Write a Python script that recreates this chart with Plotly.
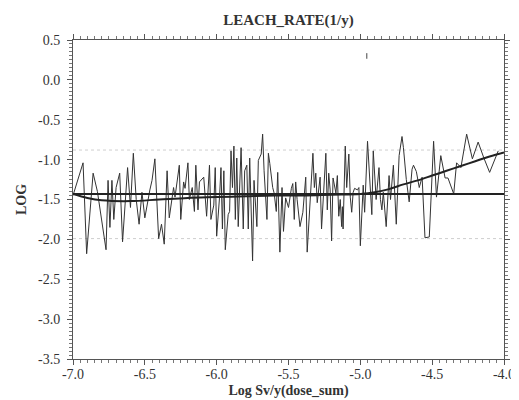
import plotly.graph_objects as go

# noisy series (log dose vs LOG leach rate)
x_vals = [-7.00, -6.93, -6.905, -6.86, -6.83, -6.77, -6.756, -6.743, -6.729, -6.716, -6.70, -6.675,
          -6.655, -6.634, -6.62, -6.60, -6.58, -6.56, -6.54, -6.52, -6.50, -6.465, -6.45, -6.43,
          -6.404, -6.384, -6.365, -6.345, -6.33, -6.30, -6.29, -6.26, -6.25, -6.23, -6.22, -6.20,
          -6.19, -6.17, -6.155, -6.145, -6.13, -6.12, -6.10, -6.09, -6.07, -6.05, -6.04, -6.02,
          -6.01, -6.00, -5.98, -5.97, -5.96, -5.95, -5.94, -5.92, -5.91, -5.90, -5.89, -5.88,
          -5.87, -5.86, -5.85, -5.83, -5.815, -5.805, -5.79, -5.78, -5.77, -5.75, -5.74, -5.72,
          -5.71, -5.69, -5.68, -5.67, -5.65, -5.64, -5.63, -5.61, -5.60, -5.585, -5.575, -5.56,
          -5.545, -5.535, -5.52, -5.50, -5.48, -5.47, -5.46, -5.45, -5.44, -5.42, -5.40, -5.38,
          -5.37, -5.35, -5.34, -5.33, -5.32, -5.31, -5.30, -5.28, -5.27, -5.25, -5.24, -5.23,
          -5.22, -5.21, -5.20, -5.19, -5.17, -5.16, -5.15, -5.14, -5.13, -5.125, -5.12, -5.105,
          -5.095, -5.08, -5.07, -5.06, -5.05, -5.04, -5.02, -5.01, -5.00, -4.98, -4.97, -4.95,
          -4.93, -4.92, -4.91, -4.89, -4.87, -4.86, -4.85, -4.84, -4.82, -4.80, -4.79, -4.77,
          -4.75, -4.73, -4.71, -4.70, -4.68, -4.66, -4.64, -4.63, -4.61, -4.59, -4.57, -4.55,
          -4.52, -4.49, -4.47, -4.44, -4.41, -4.39, -4.35, -4.33, -4.30, -4.26, -4.22, -4.18,
          -4.14, -4.10, -4.04]
y_vals = [-1.45, -1.04, -2.18, -1.17, -1.40, -2.13, -1.26, -1.85, -1.26, -1.75, -1.35, -1.17,
          -2.03, -1.38, -1.10, -1.60, -0.92, -1.50, -1.81, -1.41, -1.73, -1.38, -1.26, -0.99,
          -1.99, -1.81, -2.06, -1.14, -1.73, -1.35, -1.47, -1.07, -1.75, -1.28, -1.36, -1.04,
          -1.50, -1.35, -1.65, -1.07, -1.63, -1.28, -1.23, -1.22, -1.71, -1.07, -1.75, -1.57,
          -1.10, -1.96, -1.47, -1.10, -1.87, -1.14, -2.13, -1.69, -1.65, -0.89, -1.35, -0.83,
          -1.75, -0.98, -1.84, -0.85, -1.87, -1.14, -1.07, -1.87, -0.98, -2.27, -1.26, -1.84,
          -1.01, -0.93, -0.68, -1.14, -1.75, -0.92, -1.05, -1.35, -1.42, -1.65, -1.16, -2.16,
          -1.35, -1.90, -1.48, -1.60, -1.36, -1.30, -1.75, -1.28, -1.50, -1.84, -1.66, -1.22,
          -2.16, -1.47, -1.26, -0.92, -1.35, -1.17, -1.54, -1.22, -1.87, -1.22, -0.92, -1.63,
          -1.17, -1.38, -2.02, -1.23, -1.42, -1.20, -1.71, -1.50, -1.84, -1.59, -1.87, -0.83,
          -1.35, -0.93, -1.47, -1.66, -1.41, -1.36, -1.38, -1.35, -2.08, -1.32, -1.66, -0.77,
          -1.42, -1.69, -0.89, -1.50, -1.10, -1.50, -1.63, -1.41, -1.84, -1.20, -1.50, -1.07,
          -1.81, -0.95, -0.71, -0.85, -1.25, -1.53, -1.12, -1.07, -1.15, -1.35, -1.22, -1.98,
          -1.97, -0.77, -1.47, -0.95, -1.23, -1.23, -1.43, -1.04, -1.10, -0.68, -0.99, -0.78,
          -0.98, -1.16, -0.89]

# smoothed trend
trend_x = [-7.0, -6.9, -6.8, -6.6, -6.4, -6.2, -6.0, -5.8, -5.6, -5.4, -5.2, -5.0,
           -4.9, -4.8, -4.7, -4.6, -4.5, -4.4, -4.3, -4.2, -4.1, -4.0]
trend_y = [-1.43, -1.48, -1.51, -1.52, -1.50, -1.48, -1.47, -1.46, -1.45, -1.45, -1.44, -1.43,
           -1.41, -1.37, -1.31, -1.26, -1.20, -1.14, -1.08, -1.02, -0.96, -0.91]

# mean and +/- one standard deviation
x_span = [-7.0, -4.0]
mean_val = -1.43
upper_val = -0.88
lower_val = -1.99

# stray mark
stray_x = [-4.955]
stray_y = [0.30]

x_ticks = [-7.0, -6.5, -6.0, -5.5, -5.0, -4.5, -4.0]
x_tick_labels = ["-7.0", "-6.5", "-6.0", "-5.5", "-5.0", "-4.5", "-4.0"]
y_ticks = [0.5, 0.0, -0.5, -1.0, -1.5, -2.0, -2.5, -3.0, -3.5]
y_tick_labels = ["0.5", "0.0", "-0.5", "-1.0", "-1.5", "-2.0", "-2.5", "-3.0", "-3.5"]

fig = go.Figure()
for v in (upper_val, lower_val):
    fig.add_trace(go.Scatter(x=x_span, y=[v, v], mode="lines",
                             line=dict(color="#cfcfcf", width=1, dash="dot"),
                             hoverinfo="skip"))
fig.add_trace(go.Scatter(x=x_vals, y=y_vals, mode="lines",
                         line=dict(color="#333333", width=1)))
fig.add_trace(go.Scatter(x=x_span, y=[mean_val, mean_val], mode="lines",
                         line=dict(color="#222222", width=2)))
fig.add_trace(go.Scatter(x=trend_x, y=trend_y, mode="lines",
                         line=dict(color="#222222", width=2, shape="spline")))
fig.add_trace(go.Scatter(x=stray_x, y=stray_y, mode="markers",
                         marker=dict(symbol="line-ns", size=4,
                                     line=dict(color="#444444", width=1))))

font = "Liberation Serif, Times New Roman, serif"
axis_common = dict(showgrid=False, zeroline=False, showline=True, linecolor="#555555",
                   linewidth=1, mirror="ticks", ticks="outside", ticklen=5,
                   tickcolor="#555555",
                   tickfont=dict(family=font, size=14, color="#333333"))
fig.update_layout(
    width=519, height=400,
    margin=dict(l=63, r=13, t=32, b=43),
    paper_bgcolor="white", plot_bgcolor="white",
    showlegend=False,
    font=dict(family=font, color="#222222"),
    title=dict(text="<b>LEACH_RATE(1/y)</b>", xref="paper", x=0.5, xanchor="center",
               y=0.97, yanchor="middle", font=dict(family=font, size=15, color="#333333")),
    xaxis=dict(range=[-7.0, -4.0], tickvals=x_ticks, ticktext=x_tick_labels,
               ticklabelstandoff=-3,
               minor=dict(dtick=0.05, ticks="outside", ticklen=3, tickcolor="#777777"),
               title=dict(text="<b>Log Sv/y(dose_sum)</b>", standoff=4,
                          font=dict(family=font, size=14, color="#333333")),
               **axis_common),
    yaxis=dict(range=[-3.5, 0.5], tickvals=y_ticks, ticktext=y_tick_labels,
               ticklabelstandoff=4,
               minor=dict(dtick=0.05, ticks="outside", ticklen=3, tickcolor="#777777"),
               title=dict(text="<b>LOG</b>", standoff=8,
                          font=dict(family=font, size=14, color="#333333")),
               **axis_common),
)
fig.write_html("out.html")
